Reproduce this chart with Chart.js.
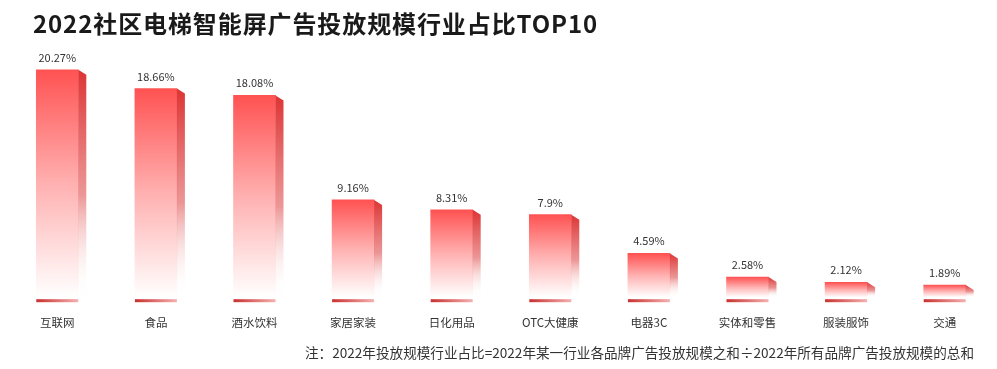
<!DOCTYPE html>
<html>
<head>
<meta charset="utf-8">
<script src="https://cdn.jsdelivr.net/npm/chart.js@4/dist/chart.umd.min.js"></script>
<style>
	body { margin: 0; background: #fff; }
	#wrap { position: relative; width: 997px; height: 369px; }
	#title {
		position: absolute; left: 33px; top: 6px;
		font: bold 24px "Noto Sans CJK SC", sans-serif; line-height: 34px;
		letter-spacing: 0.9px; color: #1a1a1a;
	}
	#note {
		position: absolute; right: 23px; top: 343px;
		font: 13.6px "Noto Sans CJK SC", sans-serif; line-height: 18px; color: #333;
	}
</style>
</head>
<body>
<div id="wrap">
	<canvas id="chart" width="997" height="369"></canvas>
	<div id="title">2022社区电梯智能屏广告投放规模行业占比TOP10</div>
	<div id="note">注：2022年投放规模行业占比=2022年某一行业各品牌广告投放规模之和÷2022年所有品牌广告投放规模的总和</div>
</div>
<script>
const categories = ['互联网', '食品', '酒水饮料', '家居家装', '日化用品', 'OTC大健康', '电器3C', '实体和零售', '服装服饰', '交通'];
const shares = [20.27, 18.66, 18.08, 9.16, 8.31, 7.9, 4.59, 2.58, 2.12, 1.89];

// side face, base strip and value labels
const cubePlugin = {
	id: 'cube',
	afterDatasetsDraw(chart) {
		const ctx = chart.ctx;
		const meta = chart.getDatasetMeta(0);
		meta.data.forEach((bar, i) => {
			const left = bar.x - bar.width / 2;
			const right = bar.x + bar.width / 2;
			const top = bar.y;
			const bottom = bar.base - 10;

			ctx.save();
			const side = ctx.createLinearGradient(0, top, 0, bottom);
			side.addColorStop(0, '#dc3434');
			side.addColorStop(0.55, 'rgba(224,80,80,0.6)');
			side.addColorStop(1, 'rgba(255,255,255,0)');
			ctx.fillStyle = side;
			ctx.beginPath();
			ctx.moveTo(right, top);
			ctx.lineTo(right + 8, top + 5);
			ctx.lineTo(right + 8, bottom);
			ctx.lineTo(right, bottom);
			ctx.closePath();
			ctx.fill();

			const strip = ctx.createLinearGradient(left, 0, right, 0);
			strip.addColorStop(0, '#c8302e');
			strip.addColorStop(1, '#f5b0b0');
			ctx.fillStyle = strip;
			ctx.fillRect(left, bar.base - 8, bar.width, 3);

			ctx.fillStyle = '#333';
			ctx.font = '11px "Noto Sans CJK SC", sans-serif';
			ctx.textAlign = 'center';
			ctx.textBaseline = 'alphabetic';
			ctx.fillText(shares[i] + '%', bar.x, top - 8);
			ctx.restore();
		});
	}
};

new Chart(document.getElementById('chart'), {
	type: 'bar',
	data: {
		labels: categories,
		datasets: [{
			data: shares,
			barThickness: 42,
			borderWidth: 0,
			backgroundColor: function (c) {
				const chart = c.chart;
				if (!chart.chartArea)
					return '#ff5454';
				const y = chart.scales.y;
				const top = y.getPixelForValue(c.raw);
				const bottom = y.getPixelForValue(0) - 10;
				const g = chart.ctx.createLinearGradient(0, top, 0, bottom);
				g.addColorStop(0, '#ff5252');
				g.addColorStop(0.5, '#ffb0b0');
				g.addColorStop(1, '#ffffff');
				return g;
			}
		}]
	},
	options: {
		responsive: false,
		animation: false,
		layout: { padding: { top: 49.5, left: 8, right: 3, bottom: 30 } },
		plugins: {
			legend: { display: false },
			tooltip: { enabled: false }
		},
		scales: {
			x: {
				grid: { display: false, drawTicks: false },
				border: { display: false },
				ticks: {
					padding: 9,
					color: '#333',
					font: { size: 11.5, family: '"Noto Sans CJK SC", sans-serif' }
				}
			},
			y: {
				display: false,
				min: 0,
				max: 22
			}
		}
	},
	plugins: [cubePlugin]
});
</script>
</body>
</html>
